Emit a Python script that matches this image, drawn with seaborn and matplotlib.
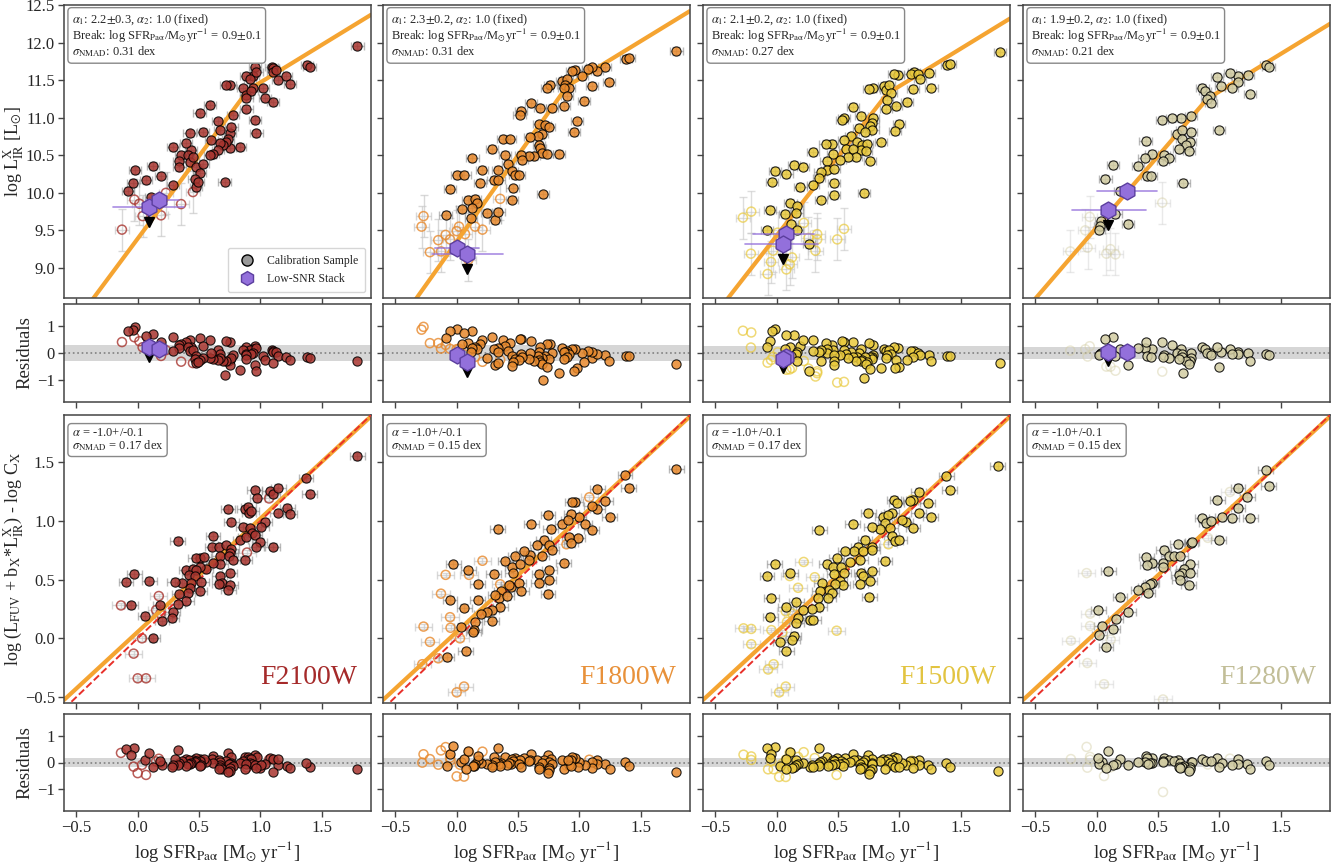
import numpy as np
import pandas as pd
import seaborn as sns
import matplotlib
matplotlib.use("Agg")
import matplotlib.pyplot as plt
from matplotlib.lines import Line2D

sns.set_style("ticks")
plt.rcParams["font.family"] = ["Liberation Serif", "DejaVu Serif"]
plt.rcParams["mathtext.fontset"] = "stix"

# ---------------- data ----------------
filters = ["F2100W", "F1800W", "F1500W", "F1280W"]
alpha1 = [2.2, 2.3, 2.1, 1.9]
alpha1_err = [0.3, 0.2, 0.2, 0.2]
break_x = [0.9, 0.9, 0.9, 0.9]
break_y = [11.37, 11.42, 11.32, 11.25]
sigma_top = [0.31, 0.31, 0.27, 0.21]
sigma_bot = [0.17, 0.15, 0.17, 0.15]
bot_slope = 0.965
bot_icpt = 0.055

# top row: (log SFR, log L_IR) calibration sample
top_f2100_fill = [(0.954,11.68),(0.94,11.55),(0.886,11.555),(0.913,11.51),(0.967,11.61),(1.09,11.67),(1.10,11.66),
    (1.10,11.61),(1.13,11.64),(1.14,11.50),(1.21,11.55),(1.24,11.45),(1.38,11.70),(1.40,11.68),(0.75,11.43),(0.72,11.43),
    (0.86,11.39),(0.886,11.30),(0.94,11.40),(0.926,11.35),(0.886,11.26),(1.02,11.39),(1.035,11.26),(1.10,11.21),
    (0.886,11.12),(0.777,11.03),(0.586,11.17),(0.504,11.06),(0.654,10.95),(0.531,10.81),(0.668,10.83),(0.75,10.79),
    (0.736,10.72),(0.75,10.59),(0.763,10.88),(0.722,10.68),(0.695,10.63),(0.668,10.66),(0.654,10.57),(0.613,10.52),
    (0.586,10.50),(0.831,10.61),(0.954,10.97),(0.967,10.79),(0.422,10.79),(0.436,10.57),(0.395,10.66),(0.286,10.61),
    (0.354,10.50),(0.34,10.43),(0.34,10.34),(0.409,10.50),(0.422,10.41),(0.45,10.48),(0.477,10.34),(0.531,10.39),
    (0.504,10.26),(0.60,10.70),(0.286,10.10),(0.463,10.19),(0.477,10.08),(0.49,10.14),(0.123,10.36),(0.19,10.23),
    (0.068,10.17),(-0.02,10.30),(-0.04,10.13),(-0.08,10.03),(0.11,9.94),(0.708,10.14),(1.79,11.96)]
top_f2100_open = [(-0.027,9.91),(0.014,9.855),(0.04,9.69),(0.19,9.70),(0.23,10.0),(0.354,9.85),(0.45,10.01),(-0.128,9.51)]

top_f1800_fill = [(1.79,11.89),(1.376,11.78),(1.40,11.80),(1.21,11.67),(1.24,11.47),(1.10,11.42),(1.144,11.62),
    (1.10,11.67),(1.07,11.65),(1.02,11.55),(0.967,11.64),(0.94,11.62),(0.858,11.49),(0.90,11.51),(0.886,11.44),
    (0.913,11.40),(0.872,11.40),(0.763,11.44),(0.736,11.39),(0.90,11.29),(1.035,11.22),(0.872,11.15),(0.777,11.13),
    (0.681,11.13),(0.608,11.19),(0.526,11.09),(0.512,11.04),(0.98,10.95),(0.954,10.81),(0.668,10.91),(0.722,10.90),
    (0.749,10.87),(0.695,10.78),(0.662,10.75),(0.60,10.74),(0.668,10.64),(0.681,10.60),(0.695,10.53),(0.736,10.52),
    (0.627,10.49),(0.586,10.49),(0.526,10.51),(0.531,10.44),(0.831,10.52),(0.381,10.72),(0.436,10.71),(0.286,10.58),
    (0.395,10.51),(0.128,10.46),(0.417,10.39),(0.45,10.29),(0.477,10.24),(0.34,10.31),(0.504,10.24),(0.455,10.06),
    (0.45,9.91),(0.204,10.31),(0.30,10.17),(0.34,10.17),(0.19,10.13),(0.0,10.24),(0.063,10.24),(-0.054,10.05),
    (0.703,9.98),(0.09,9.91),(0.15,9.92),(0.163,9.86),(0.041,9.78),(0.123,9.80),(0.245,9.73),(0.313,9.64),
    (0.34,9.75),(-0.09,9.71),(0.117,9.66)]
top_f1800_open = [(-0.27,9.69),(-0.286,9.55),(-0.15,9.37),(-0.09,9.44),(-0.054,9.38),(0.0,9.49),(0.019,9.55),
    (0.068,9.45),(0.15,9.55),(0.21,9.51),(0.354,9.92),(-0.218,9.21),(-0.128,9.22),(0.095,9.11)]

top_f1500_fill = [(1.82,11.87),(1.39,11.70),(1.41,11.72),(1.24,11.59),(1.26,11.40),(1.12,11.61),(1.09,11.58),
    (1.15,11.58),(1.17,11.51),(1.11,11.38),(0.984,11.57),(0.956,11.58),(0.875,11.42),(0.89,11.37),(0.916,11.44),
    (0.93,11.33),(0.90,11.24),(0.787,11.39),(0.755,11.38),(1.06,11.21),(0.97,11.15),(0.888,11.12),(0.998,10.92),
    (0.965,10.82),(0.624,11.14),(0.548,10.99),(0.529,10.97),(0.69,11.02),(0.787,11.0),(0.78,10.93),(0.76,10.89),
    (0.78,10.84),(0.673,10.86),(0.72,10.81),(0.608,10.75),(0.657,10.68),(0.698,10.64),(0.738,10.65),(0.684,10.57),
    (0.725,10.55),(0.847,10.67),(0.76,10.43),(0.548,10.70),(0.561,10.58),(0.624,10.58),(0.643,10.48),(0.583,10.48),
    (0.515,10.44),(0.447,10.65),(0.398,10.65),(0.297,10.54),(0.46,10.52),(0.406,10.43),(0.411,10.31),(0.466,10.32),
    (0.357,10.28),(0.343,10.20),(0.297,10.11),(0.466,10.13),(0.466,9.97),(0.362,9.91),(0.711,10.0),(0.193,10.08),
    (0.139,10.37),(0.213,10.35),(0.079,10.25),(-0.011,10.29),(-0.038,10.15),(0.112,9.87),(0.166,9.82),(0.161,9.73),
    (0.065,9.72),(-0.052,9.77),(0.12,9.58),(0.166,9.50),(-0.079,9.50),(0.262,9.32)]
top_f1500_open = [(-0.207,9.75),(-0.275,9.67),(0.008,9.47),(-0.21,9.19),(-0.046,9.08),(-0.074,8.92),(0.079,8.98),
    (0.106,9.05),(0.125,9.14),(0.221,9.60),(0.259,9.40),(0.33,9.45),(0.33,9.38),(0.316,9.23),(0.493,9.38),
    (0.548,9.52),(-0.03,9.23)]

top_f1280_fill = [(1.38,11.70),(1.40,11.68),(1.23,11.57),(1.25,11.31),(1.147,11.55),(1.15,11.48),(1.087,11.60),
    (1.098,11.40),(1.016,11.42),(0.978,11.54),(0.861,11.40),(0.88,11.35),(0.924,11.29),(0.896,11.25),(0.929,11.19),
    (0.997,10.83),(0.771,11.02),(0.684,10.99),(0.616,10.99),(0.534,10.97),(0.657,10.78),(0.698,10.84),(0.766,10.81),
    (0.698,10.72),(0.76,10.68),(0.725,10.63),(0.752,10.55),(0.67,10.58),(0.706,10.13),(0.548,10.50),(0.589,10.47),
    (0.54,10.42),(0.447,10.52),(0.39,10.47),(0.398,10.69),(0.335,10.36),(0.411,10.22),(0.444,10.23),(0.134,10.37),
    (0.071,10.19),(0.188,10.03),(0.09,9.78),(0.153,9.72),(0.038,9.63),(0.025,9.56),(0.016,9.50),(0.256,9.59)]
top_f1280_open = [(-0.057,9.68),(-0.093,9.50),(-0.074,9.27),(-0.215,9.22),(0.079,9.19),(0.112,9.25),(0.153,9.18),
    (0.534,9.87)]

# low-SNR stacks: (x, y, x_low, x_high, upper-limit arrow)
stack_f2100 = [(0.095, 9.81, -0.20, 0.38, True), (0.17, 9.91, 0.07, 0.34, False)]
stack_f1800 = [(0.0, 9.26, -0.18, 0.18, False), (0.08, 9.19, -0.20, 0.38, True)]
stack_f1500 = [(0.079, 9.45, -0.19, 0.30, False), (0.049, 9.32, -0.26, 0.34, True)]
stack_f1280 = [(0.248, 10.03, 0.0, 0.49, False), (0.093, 9.77, -0.20, 0.40, True)]

# bottom row: (log SFR, log(L_FUV + b*L_IR) - log C)
bot_f2100_fill = [(1.79,1.55),(1.40,1.23),(1.37,1.36),(1.218,1.11),(1.24,1.06),(1.14,1.07),(1.076,1.25),(1.098,1.23),
    (1.144,1.28),(0.954,1.26),(0.973,1.19),(0.736,1.10),(0.763,0.99),(0.872,1.10),(0.90,1.12),(0.907,1.07),
    (0.926,1.08),(0.858,0.95),(0.918,0.94),(0.935,0.90),(0.837,0.84),(0.88,0.86),(0.954,0.875),(0.995,0.82),
    (1.035,0.99),(1.008,0.95),(0.967,0.78),(1.098,0.78),(0.872,0.67),(0.613,0.87),(0.605,0.78),(0.662,0.78),
    (0.717,0.79),(0.763,0.76),(0.755,0.73),(0.668,0.70),(0.744,0.70),(0.673,0.63),(0.777,0.67),(0.613,0.64),
    (0.553,0.59),(0.504,0.68),(0.471,0.68),(0.537,0.69),(0.504,0.61),(0.668,0.53),(0.689,0.47),(0.662,0.46),
    (0.749,0.56),(0.755,0.45),(0.738,0.41),(0.327,0.83),(0.395,0.58),(0.45,0.59),(0.477,0.58),(0.417,0.54),
    (0.463,0.53),(0.518,0.48),(0.436,0.47),(0.428,0.43),(0.409,0.39),(0.362,0.47),(0.395,0.32),(0.34,0.38),
    (0.30,0.48),(0.504,0.40),(0.327,0.29),(0.286,0.22),(0.28,0.17),(0.199,0.15),(0.183,0.28),(0.123,0.0),
    (0.06,0.19),(0.095,0.49),(-0.027,0.55),(-0.095,0.48),(-0.054,0.28)]
bot_f2100_open = [(1.07,1.19),(0.89,0.73),(0.172,0.36),(-0.136,0.28),(0.15,0.24),(0.185,0.21),(0.035,0.0),
    (-0.033,-0.13),(0.0,-0.34),(0.068,-0.34)]

bot_f1800_fill = [(1.79,1.44),(1.37,1.39),(1.40,1.28),(1.144,1.27),(1.21,1.17),(1.245,1.03),(1.144,1.10),(1.098,1.125),
    (1.10,0.92),(1.044,0.97),(0.995,1.03),(0.967,1.16),(0.94,1.16),(0.935,1.06),(0.989,0.85),(0.918,0.86),
    (0.872,0.64),(0.932,0.81),(0.744,1.05),(0.608,0.97),(0.766,0.93),(0.858,0.97),(0.907,1.01),(0.335,0.93),
    (0.708,0.84),(0.654,0.79),(0.749,0.79),(0.777,0.75),(0.695,0.70),(0.60,0.71),(0.545,0.74),(0.477,0.70),
    (0.586,0.67),(0.395,0.655),(0.45,0.61),(0.518,0.63),(0.673,0.55),(0.755,0.58),(0.668,0.47),(0.749,0.50),
    (0.744,0.38),(0.30,0.55),(0.455,0.555),(0.444,0.44),(0.504,0.47),(0.526,0.40),(0.422,0.45),(0.362,0.40),
    (0.346,0.34),(0.409,0.36),(0.313,0.37),(0.354,0.265),(0.286,0.24),(0.245,0.22),(0.199,0.21),(0.286,0.15),
    (0.172,0.33),(0.15,0.14),(0.144,0.07),(0.134,0.05),(0.035,0.10),(0.074,-0.11),(-0.082,-0.16),(0.063,0.26),
    (-0.054,0.33),(-0.027,0.63),(0.095,0.58),(0.172,0.46)]
bot_f1800_open = [(1.08,1.20),(0.894,0.80),(0.21,0.66),(-0.09,0.54),(0.10,0.54),(0.354,0.46),(-0.128,0.38),
    (-0.054,0.18),(-0.05,0.09),(-0.27,0.10),(-0.218,-0.03),(-0.28,-0.22),(-0.15,-0.17),(0.027,0.0),(0.0,-0.46),
    (0.06,-0.41)]

bot_f1500_fill = [(1.80,1.47),(1.38,1.38),(1.41,1.26),(1.23,1.15),(1.155,1.245),(1.155,1.07),(1.255,1.03),(1.11,1.18),
    (1.087,1.17),(1.054,0.99),(1.019,1.01),(1.11,0.94),(0.956,1.18),(0.978,1.15),(0.937,1.07),(0.864,1.03),
    (0.91,1.05),(0.883,0.98),(0.842,0.93),(0.924,0.94),(0.747,1.07),(0.774,0.95),(0.619,0.97),(0.937,0.87),
    (0.965,0.83),(1.0,0.84),(0.346,0.92),(0.719,0.84),(0.774,0.78),(0.665,0.78),(0.63,0.74),(0.70,0.74),
    (0.78,0.755),(0.556,0.74),(0.488,0.68),(0.68,0.67),(0.60,0.65),(0.883,0.66),(0.406,0.635),(0.46,0.61),
    (0.52,0.61),(0.548,0.56),(0.466,0.55),(0.69,0.56),(0.70,0.53),(0.68,0.46),(0.774,0.57),(0.76,0.49),
    (0.755,0.35),(0.515,0.49),(0.537,0.45),(0.474,0.46),(0.428,0.41),(0.447,0.39),(0.365,0.47),(0.351,0.40),
    (0.42,0.34),(0.338,0.34),(0.346,0.265),(0.291,0.25),(0.27,0.16),(0.297,0.16),(0.215,0.24),(0.161,0.31),
    (0.174,0.17),(0.161,0.13),(0.139,0.02),(0.128,-0.01),(0.03,-0.03),(0.079,-0.105),(-0.016,0.63),(-0.079,0.53),
    (0.112,0.56),(0.074,0.27),(-0.043,0.34),(-0.052,0.185)]
bot_f1500_open = [(1.10,1.18),(0.91,0.80),(0.22,0.65),(0.106,0.53),(0.31,0.52),(0.174,0.43),(0.074,0.23),
    (0.128,0.21),(0.084,0.14),(-0.043,0.07),(0.046,0.05),(-0.27,0.085),(-0.207,0.08),(-0.207,-0.05),(0.488,0.065),
    (-0.025,-0.22),(-0.07,-0.265),(0.074,-0.41),(0.02,-0.46)]

bot_f1280_fill = [(1.376,1.43),(1.40,1.30),(1.15,1.28),(1.226,1.20),(1.15,1.105),(1.25,1.02),(0.981,1.18),(0.858,1.02),
    (0.894,0.98),(0.932,1.0),(1.02,1.03),(1.10,1.02),(0.995,0.84),(0.768,0.81),(0.777,0.82),(0.66,0.80),
    (0.545,0.755),(0.586,0.70),(0.627,0.70),(0.68,0.70),(0.54,0.64),(0.54,0.61),(0.45,0.64),(0.403,0.69),
    (0.409,0.62),(0.763,0.63),(0.708,0.59),(0.695,0.56),(0.757,0.56),(0.668,0.54),(0.676,0.50),(0.749,0.45),
    (0.45,0.47),(0.436,0.46),(0.395,0.44),(0.34,0.41),(0.417,0.39),(0.259,0.22),(0.19,0.35),(0.155,0.165),
    (0.131,0.077),(0.041,0.105),(0.022,0.03),(0.076,-0.07),(0.014,0.24),(0.095,0.57)]
bot_f1280_open = [(1.085,1.245),(0.905,0.855),(-0.082,0.555),(-0.054,0.21),(-0.054,0.105),(-0.21,-0.02),
    (0.114,-0.01),(-0.076,-0.21),(0.06,-0.39),(0.54,-0.52)]

# ---------------- styling ----------------
colors = ["#a8352f", "#e8892c", "#e9c93c", "#d3cda3"]
label_colors = ["#a52a2a", "#e8913a", "#e2c441", "#c2be98"]
open_alpha = [0.8, 0.8, 0.7, 0.45]
fit_color = "#f5a431"
stack_color = "#9370db"

top_sets = [(top_f2100_fill, top_f2100_open, stack_f2100), (top_f1800_fill, top_f1800_open, stack_f1800),
            (top_f1500_fill, top_f1500_open, stack_f1500), (top_f1280_fill, top_f1280_open, stack_f1280)]
bot_sets = [(bot_f2100_fill, bot_f2100_open), (bot_f1800_fill, bot_f1800_open),
            (bot_f1500_fill, bot_f1500_open), (bot_f1280_fill, bot_f1280_open)]

W, H = 1340, 864
fig = plt.figure(figsize=(W / 100, H / 100), dpi=100)
lefts = [64, 383, 703, 1023]
pw = 307
rows = [(5, 298), (304, 402), (415, 703), (714, 811)]
LABEL_FS = 13


def mk_ax(col, row):
    t, b = rows[row]
    return fig.add_axes([lefts[col] / W, 1 - b / H, pw / W, (b - t) / H])


def top_model(x, i):
    x = np.asarray(x, float)
    return np.where(x < break_x[i], break_y[i] + alpha1[i] * (x - break_x[i]), break_y[i] + (x - break_x[i]))


def bot_model(x):
    return bot_icpt + bot_slope * np.asarray(x, float)


def to_df(pts):
    a = np.array(pts, float)
    return pd.DataFrame({"x": a[:, 0], "y": a[:, 1]})


def draw_points(ax, fill, opn, i, xe_f, ye_f, xe_o, ye_o, errors=True):
    if errors:
        ax.errorbar(opn.x, opn.y, xerr=xe_o, yerr=ye_o, fmt="none", ecolor="#c8c8c8", elinewidth=1.0,
                    capsize=3, alpha=0.7 * open_alpha[i] / 0.8, zorder=1)
        ax.errorbar(fill.x, fill.y, xerr=xe_f, yerr=ye_f, fmt="none", ecolor="#8c8c8c", elinewidth=1.0,
                    capsize=3, alpha=0.6, zorder=1)
    sns.scatterplot(data=opn, x="x", y="y", ax=ax, marker="o", s=42, facecolor="none",
                    edgecolor=colors[i], linewidth=1.1, alpha=open_alpha[i], zorder=2, legend=False)
    sns.scatterplot(data=fill, x="x", y="y", ax=ax, marker="o", s=44, color=colors[i],
                    edgecolor="black", linewidth=0.8, alpha=0.85, zorder=3, legend=False)


def draw_stacks(ax, stacks, ys, arrow_len, show_xerr=True):
    for (sx, _, xl, xh, lim), sy in zip(stacks, ys):
        if show_xerr:
            ax.plot([xl, xh], [sy, sy], color=stack_color, lw=1.2, alpha=0.8, zorder=4)
        if lim:
            ax.plot([sx, sx], [sy, sy - arrow_len], color="black", lw=1.2, zorder=4)
            ax.plot([sx], [sy - arrow_len], marker="v", color="black", ms=7, zorder=4)
    sdf = pd.DataFrame({"x": [s[0] for s in stacks], "y": ys})
    sns.scatterplot(data=sdf, x="x", y="y", ax=ax, marker="h", s=150, color=stack_color,
                    edgecolor="#5b3e9e", linewidth=1.0, zorder=5, legend=False)


xgrid = np.linspace(-0.6, 1.9, 400)
for i in range(4):
    fill_pts, open_pts, stacks = top_sets[i]
    fdf, odf = to_df(fill_pts), to_df(open_pts)

    # ---- top main ----
    ax = mk_ax(i, 0)
    draw_points(ax, fdf, odf, i, 0.05, 0.05, 0.06, 0.28)
    draw_stacks(ax, stacks, [s[1] for s in stacks], 0.2)
    sns.lineplot(x=xgrid, y=top_model(xgrid, i), ax=ax, color=fit_color, lw=3, zorder=2.5)
    ax.set_xlim(-0.6, 1.9)
    ax.set_ylim(8.6, 12.5)
    ax.set_yticks(np.arange(9.0, 12.51, 0.5))
    txt = (r"$\alpha_1$: %.1f$\pm$%.1f, $\alpha_2$: 1.0 (fixed)" % (alpha1[i], alpha1_err[i]) + "\n"
           + r"Break: log SFR$_{\mathrm{Pa\alpha}}$/M$_{\odot}$yr$^{-1}$ = %.1f$\pm$0.1" % break_x[i] + "\n"
           + r"$\sigma_{\mathrm{NMAD}}$: %.2f dex" % sigma_top[i])
    ax.text(0.025, 0.975, txt, transform=ax.transAxes, va="top", ha="left", fontsize=9, linespacing=0.95,
            bbox=dict(boxstyle="round,pad=0.3", fc="white", ec="#888888", lw=1.0), zorder=6)
    if i == 0:
        ax.set_ylabel(r"log L$_{\mathrm{IR}}^{\mathrm{X}}$ [L$_{\odot}$]", fontsize=LABEL_FS)
        handles = [Line2D([], [], marker="o", ls="none", color="#999999", mec="black", ms=8, label="Calibration Sample"),
                   Line2D([], [], marker="h", ls="none", color=stack_color, mec="#5b3e9e", ms=10, label="Low-SNR Stack")]
        ax.legend(handles=handles, loc="lower right", fontsize=8.5, frameon=True, borderpad=0.6,
                  handletextpad=0.7, borderaxespad=0.5)
    else:
        ax.set_ylabel("")
        ax.set_yticklabels([])
    ax.set_xlabel("")
    ax.set_xticklabels([])

    # ---- top residuals ----
    axr = mk_ax(i, 1)
    axr.axhspan(-sigma_top[i], sigma_top[i], color="#cfcfcf", alpha=0.85, lw=0, zorder=0)
    axr.axhline(0, color="gray", ls=":", lw=1.2, zorder=0.5)
    rf = fdf.assign(y=fdf.y - top_model(fdf.x, i))
    ro = odf.assign(y=odf.y - top_model(odf.x, i))
    draw_points(axr, rf, ro, i, 0, 0, 0, 0, errors=False)
    sres = [s[1] - float(top_model(s[0], i)) for s in stacks]
    draw_stacks(axr, stacks, sres, 0.35, show_xerr=False)

    # ---- bottom main ----
    bfill, bopen = bot_sets[i]
    bfd, bod = to_df(bfill), to_df(bopen)
    axb = mk_ax(i, 2)
    draw_points(axb, bfd, bod, i, 0.06, 0.03, 0.07, 0.02)
    sns.lineplot(x=xgrid, y=bot_model(xgrid), ax=axb, color=fit_color, lw=3, zorder=2.5)
    sns.lineplot(x=xgrid, y=xgrid, ax=axb, color="#e8302a", lw=1.4, ls="--", zorder=2.6)
    axb.set_xlim(-0.6, 1.9)
    axb.set_ylim(-0.55, 1.9)
    axb.set_yticks([-0.5, 0.0, 0.5, 1.0, 1.5])
    txt2 = (r"$\alpha$ = -1.0+/-0.1" + "\n" + r"$\sigma_{\mathrm{NMAD}}$ = %.2f dex" % sigma_bot[i])
    axb.text(0.025, 0.96, txt2, transform=axb.transAxes, va="top", ha="left", fontsize=9, linespacing=0.95,
             bbox=dict(boxstyle="round,pad=0.3", fc="white", ec="#888888", lw=1.0), zorder=6)
    axb.text(0.955, 0.045, filters[i], transform=axb.transAxes, ha="right", va="bottom", fontsize=20,
             color=label_colors[i])
    if i == 0:
        axb.set_ylabel(r"log (L$_{\mathrm{FUV}}$ + b$_{\mathrm{X}}$*L$_{\mathrm{IR}}^{\mathrm{X}}$) - log C$_{\mathrm{X}}$",
                       fontsize=LABEL_FS)
    else:
        axb.set_ylabel("")
        axb.set_yticklabels([])
    axb.set_xlabel("")
    axb.set_xticklabels([])

    # ---- bottom residuals ----
    axr2 = mk_ax(i, 3)
    axr2.axhspan(-sigma_bot[i], sigma_bot[i], color="#cfcfcf", alpha=0.85, lw=0, zorder=0)
    axr2.axhline(0, color="gray", ls=":", lw=1.2, zorder=0.5)
    rbf = bfd.assign(y=bfd.y - bot_model(bfd.x))
    rbo = bod.assign(y=bod.y - bot_model(bod.x))
    draw_points(axr2, rbf, rbo, i, 0, 0, 0, 0, errors=False)
    axr2.set_xlabel(r"log SFR$_{\mathrm{Pa\alpha}}$ [M$_{\odot}$ yr$^{-1}$]", fontsize=LABEL_FS + 0.5, labelpad=2)

    for a in (axr, axr2):
        a.set_xlim(-0.6, 1.9)
        a.set_ylim(-1.8, 1.8)
        a.set_yticks([-1, 0, 1])
        if i == 0:
            a.set_ylabel("Residuals", fontsize=LABEL_FS + 0.5)
        else:
            a.set_ylabel("")
            a.set_yticklabels([])
    axr.set_xlabel("")
    axr.set_xticklabels([])

    for a in (ax, axr, axb, axr2):
        a.set_xticks([-0.5, 0.0, 0.5, 1.0, 1.5])
        a.tick_params(labelsize=12, length=4, width=1, color="#444444", pad=2.5)
        for sp in a.spines.values():
            sp.set_color("#444444")
            sp.set_linewidth(1.1)
    axr.set_xticklabels([])
    axr2.set_xticklabels(["\u22120.5", "0.0", "0.5", "1.0", "1.5"])
    if i == 0:
        ax.yaxis.set_label_coords(-0.125, 0.5)
        axb.yaxis.set_label_coords(-0.125, 0.5)
        axr.yaxis.set_label_coords(-0.10, 0.5)
        axr2.yaxis.set_label_coords(-0.10, 0.5)

fig.savefig("out.png", dpi=100)
